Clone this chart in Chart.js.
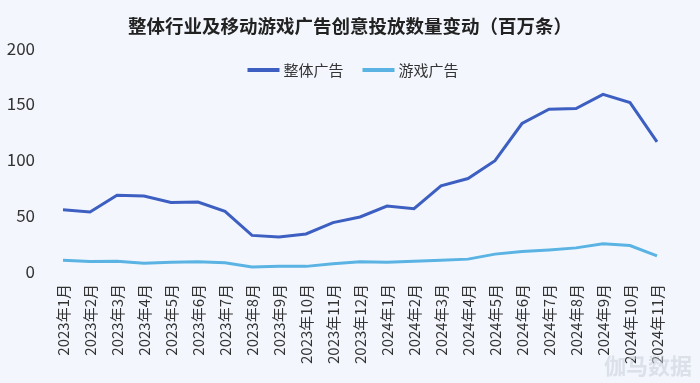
<!DOCTYPE html>
<html>
<head>
<meta charset="utf-8">
<script src="https://cdn.jsdelivr.net/npm/chart.js@4/dist/chart.umd.min.js"></script>
<style>
  html, body { margin: 0; padding: 0; background: #f3f7fd; }
  #wrap { width: 700px; height: 383px; position: relative; }
</style>
</head>
<body>
<div id="wrap"><canvas id="c" width="700" height="383"></canvas></div>
<script>
const categories = ["2023年1月","2023年2月","2023年3月","2023年4月","2023年5月","2023年6月","2023年7月","2023年8月","2023年9月","2023年10月","2023年11月","2023年12月","2024年1月","2024年2月","2024年3月","2024年4月","2024年5月","2024年6月","2024年7月","2024年8月","2024年9月","2024年10月","2024年11月"];
const overallAds = [55, 53, 68, 67.3, 61.6, 62, 53.6, 32, 30.6, 33.3, 43.5, 48.5, 58.3, 56, 76.5, 83, 99, 132.4, 145.2, 145.8, 158.6, 151.2, 116];
const gameAds = [9.8, 8.6, 8.8, 7.1, 7.9, 8.3, 7.4, 3.6, 4.2, 4.2, 6.5, 8.3, 7.8, 8.9, 9.8, 10.7, 15.2, 17.6, 19, 20.8, 24.4, 22.9, 13.7];
const yTicks = [0, 50, 100, 150, 200];
const titleText = "整体行业及移动游戏广告创意投放数量变动（百万条）";
const seriesNames = ["整体广告", "游戏广告"];
const watermark = "伽马数据";

const FONT = "'Noto Sans CJK SC', 'Noto Sans', sans-serif";
const DARK = "#3d5fc1";
const LIGHT = "#5ab3e3";

const bgPlugin = {
  id: "bg",
  beforeDraw(chart) {
    const ctx = chart.ctx;
    ctx.save();
    ctx.fillStyle = "#f3f7fd";
    ctx.fillRect(0, 0, chart.width, chart.height);
    ctx.restore();
  },
  afterDraw(chart) {
    const ctx = chart.ctx;
    ctx.save();
    ctx.font = "bold 22px " + FONT;
    ctx.fillStyle = "rgba(200,205,215,0.55)";
    ctx.textAlign = "right";
    ctx.textBaseline = "middle";
    ctx.fillText(watermark, 692, 366);
    ctx.restore();
  }
};

// Horizontal legend drawn inside the plot area, built from the datasets.
const inlineLegend = {
  id: "inlineLegend",
  afterDatasetsDraw(chart) {
    const ctx = chart.ctx;
    const ds = chart.data.datasets;
    const lineW = 32, gapText = 4, gapItem = 19, y = 70;
    ctx.save();
    ctx.font = "15px " + FONT;
    const widths = ds.map(d => lineW + gapText + ctx.measureText(d.label).width);
    const total = widths.reduce((a, b) => a + b, 0) + gapItem * (ds.length - 1);
    let x = 353 - total / 2;
    ds.forEach((d, i) => {
      ctx.fillStyle = d.borderColor;
      ctx.fillRect(x, y - 2, lineW, 4);
      ctx.fillStyle = "#333";
      ctx.textAlign = "left";
      ctx.textBaseline = "middle";
      ctx.fillText(d.label, x + lineW + gapText, y);
      x += widths[i] + gapItem;
    });
    ctx.restore();
  }
};

new Chart(document.getElementById("c"), {
  type: "line",
  data: {
    labels: categories,
    datasets: [
      { label: seriesNames[0], data: overallAds, borderColor: DARK, backgroundColor: DARK, borderWidth: 3, pointRadius: 0, tension: 0 },
      { label: seriesNames[1], data: gameAds, borderColor: LIGHT, backgroundColor: LIGHT, borderWidth: 3, pointRadius: 0, tension: 0 }
    ]
  },
  options: {
    responsive: false,
    animation: false,
    devicePixelRatio: 1,
    layout: { padding: { left: 0, right: 0, top: 0, bottom: 6 } },
    plugins: {
      title: {
        display: true,
        text: titleText,
        color: "#222",
        font: { family: FONT, size: 18.5, weight: "bold" },
        padding: { top: 15, bottom: 11 }
      },
      legend: { display: false },
      tooltip: { enabled: false }
    },
    scales: {
      x: {
        offset: false,
        grid: { display: false, drawTicks: false },
        border: { display: false },
        ticks: {
          color: "#333",
          font: { family: FONT, size: 15 },
          maxRotation: 90,
          minRotation: 90,
          autoSkip: false,
          padding: 13
        }
      },
      y: {
        min: 0,
        max: 200,
        afterBuildTicks(scale) { scale.ticks = yTicks.map(v => ({ value: v })); },
        afterFit(scale) { scale.width = 63; },
        grid: { display: false, drawTicks: false },
        border: { display: false },
        ticks: {
          color: "#333",
          font: { family: FONT, size: 17 },
          padding: 28
        }
      },
      yRight: {
        position: "right",
        min: 0,
        max: 200,
        afterFit(scale) { scale.width = 43; },
        grid: { display: false, drawTicks: false },
        border: { display: false },
        ticks: { display: false }
      }
    }
  },
  plugins: [bgPlugin, inlineLegend]
});
</script>
</body>
</html>
